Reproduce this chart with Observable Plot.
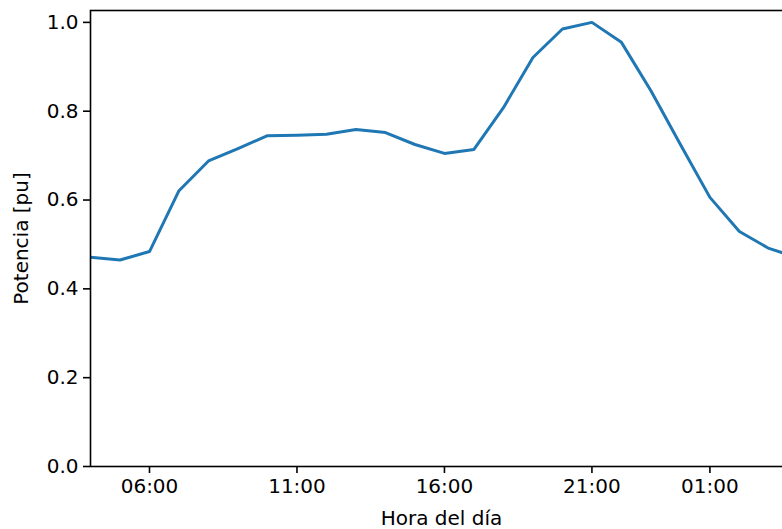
<!DOCTYPE html>
<html>
<head>
<meta charset="utf-8">
<script src="https://cdn.jsdelivr.net/npm/d3@7"></script>
<script src="https://cdn.jsdelivr.net/npm/@observablehq/plot@0.6"></script>
<style>
  html, body { margin: 0; padding: 0; background: #fff; overflow: hidden; }
  #chart { width: 782px; height: 529px; }
</style>
</head>
<body>
<div id="chart"></div>
<script>
// Hourly load profile, from 04:00 to 04:00 of the next day
const horas = ["04:00","05:00","06:00","07:00","08:00","09:00","10:00","11:00","12:00","13:00",
  "14:00","15:00","16:00","17:00","18:00","19:00","20:00","21:00","22:00","23:00",
  "00:00","01:00","02:00","03:00","04:00"];
const potencia = [0.471, 0.465, 0.484, 0.621, 0.688, 0.716, 0.745, 0.746, 0.748, 0.759,
  0.752, 0.725, 0.705, 0.714, 0.808, 0.921, 0.985, 1.000, 0.955, 0.846,
  0.725, 0.606, 0.529, 0.491, 0.470];
const xTicks = ["06:00", "11:00", "16:00", "21:00", "01:00"];
const yTicks = [0.0, 0.2, 0.4, 0.6, 0.8, 1.0];

// Hours before 04:00 belong to the following day
const toDate = (h, nextDay) => {
  const [hh, mm] = h.split(":").map(Number);
  return new Date(Date.UTC(2023, 0, nextDay ? 2 : 1, hh, mm));
};
const data = horas.map((h, i) => ({
  t: toDate(h, i > 0 && Number(h.slice(0, 2)) <= 4),
  p: potencia[i]
}));
const tickDates = xTicks.map(h => toDate(h, Number(h.slice(0, 2)) < 4));

// The axes run a little past the right edge of the figure
const x0 = data[0].t;
const x1 = new Date(+x0 + 23.8 * 3600e3);
const yMax = 1 + 0.05 * (d3.max(potencia) - d3.min(potencia));

const fontFamily = "DejaVu Sans, sans-serif";
const chart = Plot.plot({
  width: 782,
  height: 529,
  marginTop: 10,
  marginBottom: 63,
  marginLeft: 90,
  marginRight: -10,
  style: {fontFamily, fontSize: "20px", color: "#000", background: "#fff"},
  x: {type: "utc", domain: [x0, x1]},
  y: {domain: [0, yMax]},
  marks: [
    Plot.line(data, {x: "t", y: "p", stroke: "#1f77b4", strokeWidth: 3, strokeLinejoin: "round", clip: true}),
    Plot.frame({stroke: "#000", strokeWidth: 1.6}),
    Plot.axisX({
      ticks: tickDates,
      tickFormat: d3.utcFormat("%H:%M"),
      tickSize: 7,
      tickPadding: 5,
      strokeWidth: 1.6,
      fontSize: 20,
      label: "Hora del día",
      labelAnchor: "center",
      labelArrow: "none",
      labelOffset: 58
    }),
    Plot.axisY({
      ticks: yTicks,
      tickFormat: d3.format(".1f"),
      tickSize: 7,
      tickPadding: 5,
      strokeWidth: 1.6,
      fontSize: 20,
      label: "Potencia [pu]",
      labelAnchor: "center",
      labelArrow: "none",
      labelOffset: 77
    })
  ]
});
document.getElementById("chart").appendChild(chart);
</script>
</body>
</html>
